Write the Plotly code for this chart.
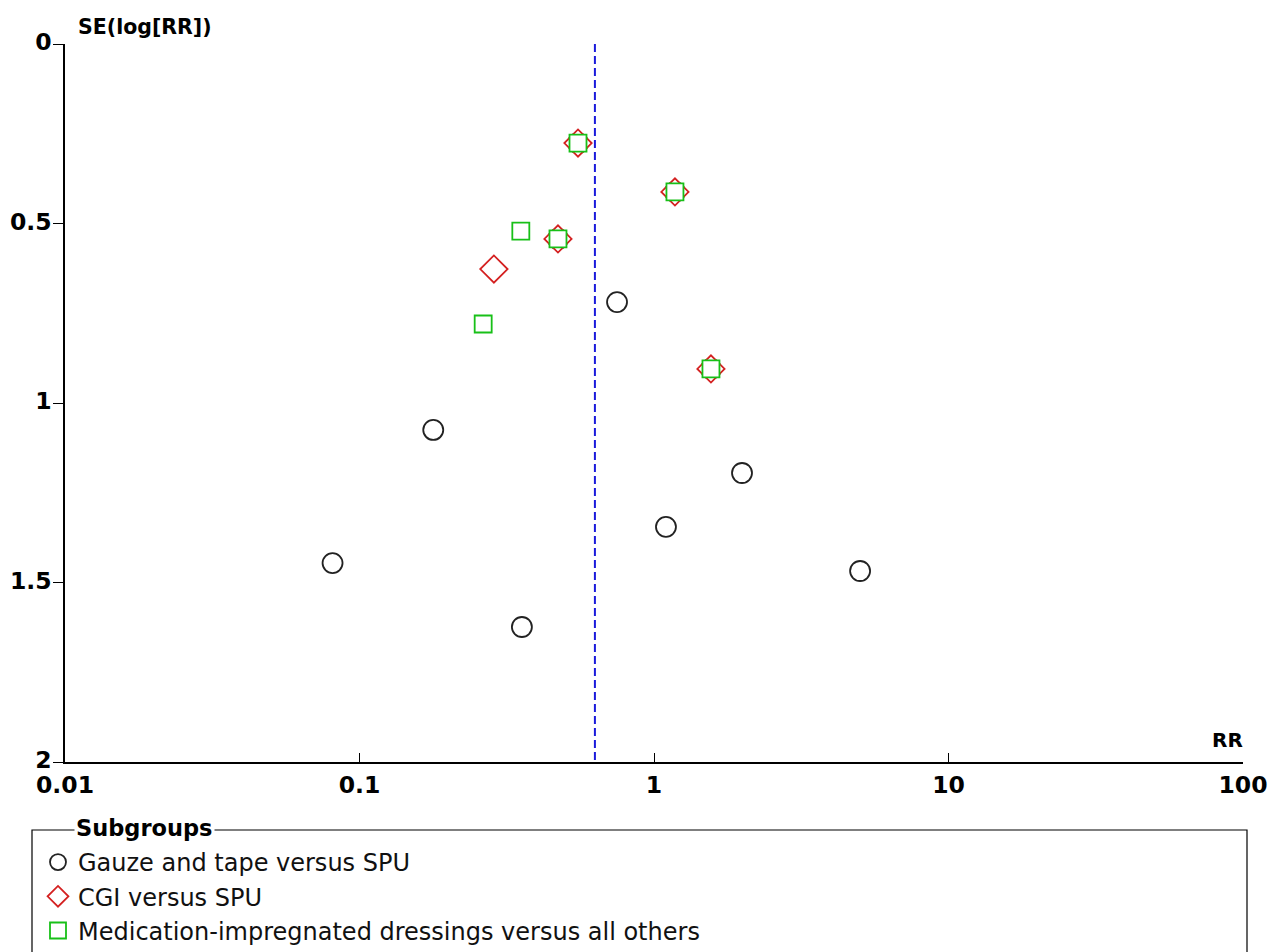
import plotly.graph_objects as go

# ---- data ----
gauze_rr = [0.552, 1.178, 0.472, 1.561, 0.749, 0.178, 0.081, 0.356, 1.098, 1.99, 5.01]
gauze_se = [0.276, 0.412, 0.543, 0.905, 0.719, 1.075, 1.446, 1.624, 1.345, 1.195, 1.468]

cgi_rr = [0.552, 1.178, 0.472, 1.561, 0.286]
cgi_se = [0.276, 0.412, 0.543, 0.905, 0.627]

med_rr = [0.552, 1.178, 0.472, 1.561, 0.353, 0.263]
med_se = [0.276, 0.412, 0.543, 0.905, 0.521, 0.780]

pooled_rr = 0.63
se_range = [0, 2]
x_ticks = [0.01, 0.1, 1, 10, 100]
x_tick_labels = ["0.01", "0.1", "1", "10", "100"]
y_ticks = [0, 0.5, 1, 1.5, 2]
y_tick_labels = ["0", "0.5", "1", "1.5", "2"]

W, H = 1278, 952
L, R, T, B = 65, 35, 44, 190
pw, ph = W - L - R, H - T - B

def px_x(p):
    return (p - L) / pw

def px_y(p):
    return (H - B - p) / ph

fig = go.Figure()

fig.add_trace(go.Scatter(
    x=[pooled_rr, pooled_rr], y=se_range, mode="lines",
    line=dict(color="#1a1adb", width=2, dash="8px,4px"), showlegend=False, hoverinfo="skip"))

fig.add_trace(go.Scatter(
    x=gauze_rr, y=gauze_se, mode="markers", name="Gauze and tape versus SPU",
    marker=dict(symbol="circle", size=20, color="white", line=dict(color="#222222", width=1.8))))
fig.add_trace(go.Scatter(
    x=cgi_rr, y=cgi_se, mode="markers", name="CGI versus SPU",
    marker=dict(symbol="diamond", size=21, color="white", line=dict(color="#d42020", width=1.8))))
fig.add_trace(go.Scatter(
    x=med_rr, y=med_se, mode="markers", name="Medication-impregnated dressings versus all others",
    marker=dict(symbol="square", size=17, color="white", line=dict(color="#18c018", width=1.8))))

tick_font = dict(family="DejaVu Sans", size=23.5, color="black", weight="bold")

fig.update_xaxes(
    type="log", range=[-2, 2], tickvals=x_ticks, ticktext=x_tick_labels,
    showline=True, linecolor="black", linewidth=1.5, showgrid=False, zeroline=False,
    ticks="inside", ticklen=9, tickwidth=1.2, tickcolor="black", tickfont=tick_font,
    ticklabelstandoff=1)
fig.update_yaxes(
    range=[2, 0], tickvals=y_ticks, ticktext=y_tick_labels,
    showline=True, linecolor="black", linewidth=1.5, showgrid=False, zeroline=False,
    ticks="outside", ticklen=10, tickwidth=1.2, tickcolor="black", tickfont=tick_font,
    ticklabelstandoff=-3, ticklabelshift=2)

annotations = [
    dict(text="SE(log[RR])", xref="paper", yref="paper", x=px_x(76), y=px_y(27),
         xanchor="left", yanchor="middle", showarrow=False,
         font=dict(family="DejaVu Sans", size=20.5, color="black", weight="bold")),
    dict(text="RR", xref="paper", yref="paper", x=px_x(1245), y=px_y(740),
         xanchor="right", yanchor="middle", showarrow=False,
         font=dict(family="DejaVu Sans", size=20, color="black", weight="bold")),
    dict(text="Subgroups", xref="paper", yref="paper", x=px_x(74), y=px_y(828),
         xanchor="left", yanchor="middle", showarrow=False, bgcolor="white",
         font=dict(family="DejaVu Sans", size=22.5, color="black", weight="bold")),
]

shapes = [
    dict(type="rect", xref="paper", yref="paper",
         x0=px_x(32), x1=px_x(1247), y0=px_y(830), y1=px_y(975),
         line=dict(color="black", width=1.2), fillcolor="rgba(0,0,0,0)", layer="below"),
]

fig.update_layout(
    width=W, height=H,
    margin=dict(l=L, r=R, t=T, b=B, autoexpand=False),
    paper_bgcolor="white", plot_bgcolor="white",
    annotations=annotations, shapes=shapes,
    showlegend=True,
    legend=dict(x=px_x(38), y=px_y(840), xanchor="left", yanchor="top",
                bgcolor="rgba(0,0,0,0)", borderwidth=0, tracegroupgap=0,
                itemsizing="trace",
                font=dict(family="DejaVu Sans", size=24, color="#111111")),
)

fig.write_html("out.html", config={"displayModeBar": False},
               post_script="document.body.style.margin='0';")
